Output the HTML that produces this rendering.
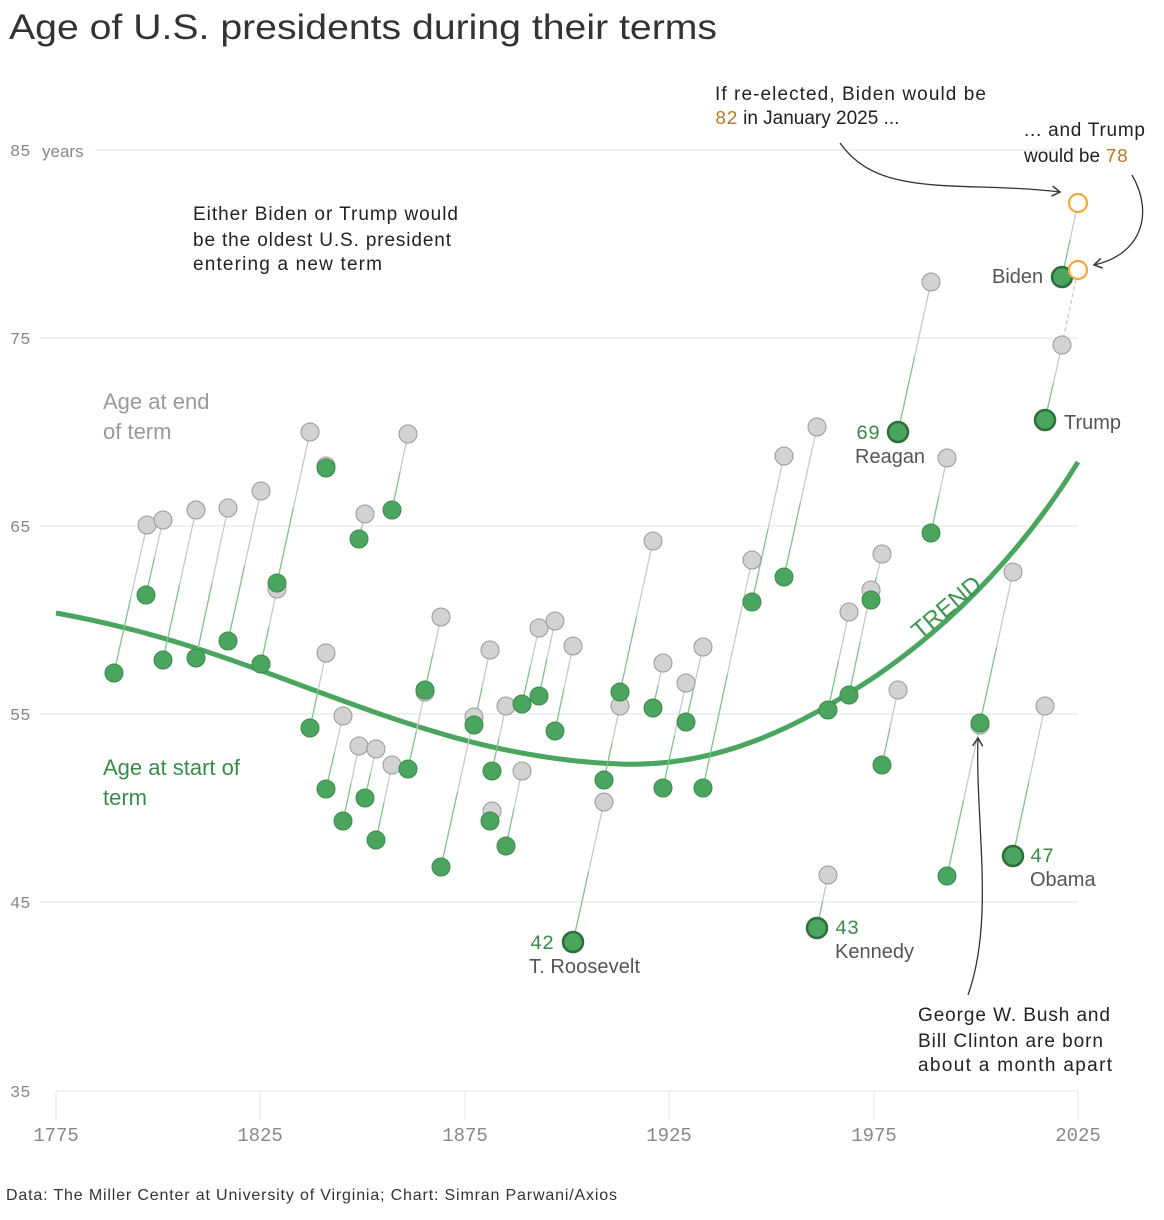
<!DOCTYPE html>
<html><head><meta charset="utf-8"><style>
body{margin:0;background:#fff;}
svg{display:block;font-family:"Liberation Sans",sans-serif;}
</style></head><body>
<svg id="s" width="1164" height="1220" xmlns="http://www.w3.org/2000/svg">
<defs>
<marker id="ah" markerWidth="12" markerHeight="12" refX="9" refY="6" orient="auto" markerUnits="userSpaceOnUse"><path d="M1,1 L9,6 L1,11" fill="none" stroke="#333" stroke-width="1.5"/></marker>
</defs>
<text x="9" y="39" font-size="35" fill="#333" textLength="708" lengthAdjust="spacingAndGlyphs">Age of U.S. presidents during their terms</text>
<g stroke="#e3e3e3" stroke-width="1">
<line x1="95" y1="150" x2="1078" y2="150"/>
<line x1="40" y1="338" x2="1078" y2="338"/>
<line x1="40" y1="526" x2="1078" y2="526"/>
<line x1="40" y1="714" x2="1078" y2="714"/>
<line x1="40" y1="902" x2="1078" y2="902"/>
<line x1="56" y1="1091" x2="1078" y2="1091"/>
<line x1="56" y1="1091" x2="56" y2="1120"/><line x1="260" y1="1091" x2="260" y2="1120"/><line x1="465" y1="1091" x2="465" y2="1120"/><line x1="669" y1="1091" x2="669" y2="1120"/><line x1="874" y1="1091" x2="874" y2="1120"/><line x1="1078" y1="1091" x2="1078" y2="1120"/>
</g>
<g font-family="Liberation Mono,monospace" font-size="17" fill="#888">
<text x="10" y="156">85</text><text x="42" y="157" font-family="Liberation Sans,sans-serif">years</text>
<text x="10" y="344">75</text><text x="10" y="532">65</text><text x="10" y="720">55</text><text x="10" y="908">45</text><text x="10" y="1097">35</text>
<g text-anchor="middle" font-size="19"><text x="56" y="1141">1775</text><text x="260" y="1141">1825</text><text x="465" y="1141">1875</text><text x="669" y="1141">1925</text><text x="874" y="1141">1975</text><text x="1078" y="1141">2025</text></g>
</g>
<path d="M56,613 C150,630 220,655 300,685 C400,722 500,760 620,764 C720,768 800,725 870,680 C960,620 1030,540 1078,462" fill="none" stroke="#4aa55e" stroke-width="5"/>
<text x="0" y="0" font-size="24" fill="#3d9650" transform="translate(920,640) rotate(-40)">TREND</text>
<g id="pts"></g>
<g font-size="22">
<text x="103" y="409" fill="#999">Age at end</text>
<text x="103" y="439" fill="#999">of term</text>
<text x="103" y="775" fill="#3a8a4a">Age at start of</text>
<text x="103" y="805" fill="#3a8a4a">term</text>
</g>
<g font-size="19" fill="#222">
<text x="193" y="220" textLength="265">Either Biden or Trump would</text>
<text x="193" y="246" textLength="258">be the oldest U.S. president</text>
<text x="193" y="270" textLength="189">entering a new term</text>
<text x="715" y="100" textLength="271">If re-elected, Biden would be</text>
<text x="715" y="124"><tspan fill="#b07d26" font-family="Liberation Mono,monospace">82</tspan> in January 2025 ...</text>
<text x="1024" y="136" textLength="121">... and Trump</text>
<text x="1024" y="162">would be <tspan fill="#b07d26" font-family="Liberation Mono,monospace">78</tspan></text>
<text x="918" y="1021" textLength="192">George W. Bush and</text>
<text x="918" y="1047" textLength="185">Bill Clinton are born</text>
<text x="918" y="1071" textLength="194">about a month apart</text>
</g>
<g font-size="20" fill="#555">
<text x="992" y="283">Biden</text><text x="1064" y="429">Trump</text>
<text x="855" y="463">Reagan</text><text x="529" y="973" textLength="111">T. Roosevelt</text>
<text x="835" y="958">Kennedy</text><text x="1030" y="886">Obama</text>
</g>
<g font-size="20" fill="#3a8a4a" font-family="Liberation Mono,monospace">
<text x="856" y="439">69</text><text x="530" y="949">42</text><text x="835" y="934">43</text><text x="1030" y="862">47</text>
</g>
<g fill="none" stroke="#333" stroke-width="1.3">
<path d="M840,143 C880,200 960,180 1060,192" marker-end="url(#ah)"/>
<path d="M1132,175 C1155,215 1140,255 1094,265" marker-end="url(#ah)"/>
<path d="M968,995 C995,920 975,820 978,738" marker-end="url(#ah)"/>
</g>
<text x="6" y="1200" font-size="16" fill="#333" textLength="611">Data: The Miller Center at University of Virginia; Chart: Simran Parwani/Axios</text>
</svg>
<script>
var d=[[114,673,147,525],[146,595,163,520],[163,660,196,510],[196,658,228,508],[228,641,261,491],[261,664,277,589],[277,583,310,432],[310,728,326,653],[326,789,343,716],[343,821,359,746],[359,539,365,514],[365,798,376,749],[376,840,392,765],[392,510,408,434],[408,769,425,692],[425,690,441,617],[441,867,474,717],[474,725,490,650],[490,821,492,811],[492,771,506,706],[506,846,522,771],[522,704,539,628],[539,696,555,621],[555,731,573,646],[573,942,604,802,1],[604,780,620,706],[620,692,653,541],[653,708,663,663],[663,788,686,683],[686,722,703,647],[703,788,752,560],[752,602,784,456],[784,577,817,427],[817,928,828,875,1],[828,710,849,612],[849,695,871,590],[871,600,882,554],[882,765,898,690],[898,432,931,282,1],[931,533,947,458],[947,876,980,725],[980,723,1013,572],[1013,856,1045,706,1],[1045,420,1062,345,1],[326,468,326,466]];
var ns="http://www.w3.org/2000/svg",g=document.getElementById('pts'),L=[],G=[],C=[];
function el(t,a){var e=document.createElementNS(ns,t);for(var k in a)e.setAttribute(k,a[k]);return e;}
d.forEach(function(p){var mx=(p[0]+p[2])/2,my=(p[1]+p[3])/2;
L.push(el('line',{x1:mx,y1:my,x2:p[2],y2:p[3],stroke:'#c8c8c8','stroke-width':1.3}));
L.push(el('line',{x1:p[0],y1:p[1],x2:mx,y2:my,stroke:'#7cc28e','stroke-width':1.3}));
G.push(el('circle',{cx:p[2],cy:p[3],r:9,fill:'#d2d2d2',stroke:'#999','stroke-width':1}));
C.push(el('circle',{cx:p[0],cy:p[1],r:p[4]?10:9,fill:'#4aa55e',stroke:p[4]?'#2e6e3a':'#3c8a4c','stroke-width':p[4]?2.5:1}));});
L.push(el('line',{x1:1070,y1:240,x2:1078,y2:203,stroke:'#c8c8c8','stroke-width':1.3}));
L.push(el('line',{x1:1062,y1:277,x2:1070,y2:240,stroke:'#7cc28e','stroke-width':1.3}));
L.push(el('line',{x1:1062,y1:345,x2:1078,y2:270,stroke:'#c8c8c8','stroke-width':1.3,'stroke-dasharray':'4,3'}));
L.forEach(function(e){g.appendChild(e)});G.forEach(function(e){g.appendChild(e)});C.forEach(function(e){g.appendChild(e)});
g.appendChild(el('circle',{cx:1062,cy:277,r:10,fill:'#4aa55e',stroke:'#2e6e3a','stroke-width':2.5}));
g.appendChild(el('circle',{cx:1078,cy:203,r:9,fill:'#fff',stroke:'#f0a83a','stroke-width':2.2}));
g.appendChild(el('circle',{cx:1078,cy:270,r:9,fill:'#fff',stroke:'#f0a83a','stroke-width':2.2}));
</script>
</body></html>
